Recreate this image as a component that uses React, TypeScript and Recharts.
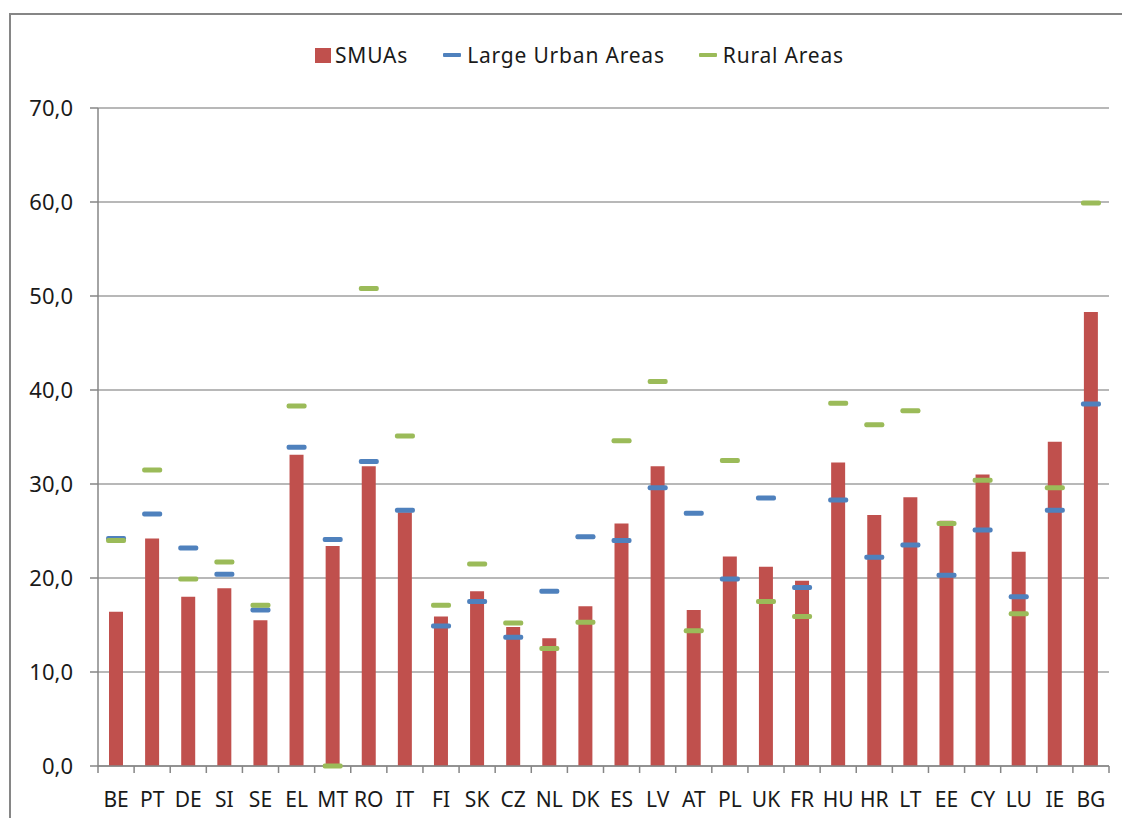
import React from 'react';
import { ComposedChart, Bar, Line, XAxis, YAxis, CartesianGrid, Legend } from 'recharts';

const categories = ['BE', 'PT', 'DE', 'SI', 'SE', 'EL', 'MT', 'RO', 'IT', 'FI', 'SK', 'CZ', 'NL', 'DK', 'ES', 'LV', 'AT', 'PL', 'UK', 'FR', 'HU', 'HR', 'LT', 'EE', 'CY', 'LU', 'IE', 'BG'];
const smuas = [16.4, 24.2, 18.0, 18.9, 15.5, 33.1, 23.4, 31.9, 27.0, 15.9, 18.6, 14.8, 13.6, 17.0, 25.8, 31.9, 16.6, 22.3, 21.2, 19.7, 32.3, 26.7, 28.6, 26.1, 31.0, 22.8, 34.5, 48.3];
const largeUrban = [24.2, 26.8, 23.2, 20.4, 16.6, 33.9, 24.1, 32.4, 27.2, 14.9, 17.5, 13.7, 18.6, 24.4, 24.0, 29.6, 26.9, 19.9, 28.5, 19.0, 28.3, 22.2, 23.5, 20.3, 25.1, 18.0, 27.2, 38.5];
const rural = [24.0, 31.5, 19.9, 21.7, 17.1, 38.3, 0.0, 50.8, 35.1, 17.1, 21.5, 15.2, 12.5, 15.3, 34.6, 40.9, 14.4, 32.5, 17.5, 15.9, 38.6, 36.3, 37.8, 25.8, 30.4, 16.2, 29.6, 59.9];
const yTicks = [0, 10, 20, 30, 40, 50, 60, 70];
const seriesNames = ['SMUAs', 'Large Urban Areas', 'Rural Areas'];

const data = categories.map((c, i) => ({ name: c, smuas: smuas[i], urban: largeUrban[i], rural: rural[i] }));

const W = 1130;
const H = 826;
const PLOT_LEFT = 98;
const PLOT_RIGHT = 1109;
const BAND = (PLOT_RIGHT - PLOT_LEFT) / categories.length;
const AXIS_COLOR = '#868686';
const GRID_COLOR = '#a0a0a0';
const TEXT_COLOR = '#1a1a1a';
const RED = '#C0504D';
const BLUE = '#4F81BD';
const GREEN = '#9BBB59';
const AXIS_FONT = '"Noto Sans", sans-serif';
const LEGEND_FONT = '"Noto Sans", sans-serif';

const legendItems = [
  { name: seriesNames[0], color: RED, kind: 'square', gap: 0 },
  { name: seriesNames[1], color: BLUE, kind: 'line', gap: 35 },
  { name: seriesNames[2], color: GREEN, kind: 'line', gap: 34 },
];

const makeDash = (color: string) => (props: any) => {
  const { cx, cy, index } = props;
  if (cx == null || cy == null) return <g key={`d-${color}-${index}`} />;
  return (
    <rect
      key={`d-${color}-${index}`}
      x={cx - 10}
      y={cy - 2.5}
      width={20}
      height={5}
      rx={2}
      ry={2}
      fill={color}
    />
  );
};

const XTick = (props: any) => {
  const { x, y, payload, index } = props;
  const half = BAND / 2;
  return (
    <g>
      <line x1={x - half} y1={y} x2={x - half} y2={y + 7} stroke={AXIS_COLOR} strokeWidth={1.5} />
      {index === categories.length - 1 && (
        <line x1={x + half} y1={y} x2={x + half} y2={y + 7} stroke={AXIS_COLOR} strokeWidth={1.5} />
      )}
      <text
        x={x}
        y={y + 41}
        textAnchor="middle"
        fill={TEXT_COLOR}
        fontSize={21}
        fontFamily={AXIS_FONT}
      >
        {payload.value}
      </text>
    </g>
  );
};

const renderLegend = () => (
  <div style={{ display: 'flex', alignItems: 'center', fontFamily: LEGEND_FONT, fontSize: 21, letterSpacing: 0.8, color: TEXT_COLOR, whiteSpace: 'nowrap' }}>
    {legendItems.map((it) => (
      <div key={it.name} style={{ display: 'flex', alignItems: 'center', marginLeft: it.gap }}>
        {it.kind === 'square' ? (
          <div style={{ width: 16, height: 15, background: it.color, marginRight: 4 }} />
        ) : (
          <div style={{ width: 18, height: 4, background: it.color, marginRight: 6, borderRadius: 1 }} />
        )}
        <span>{it.name}</span>
      </div>
    ))}
  </div>
);

export default function App() {
  return (
    <div style={{ width: W, height: H, margin: -8, position: 'relative', overflow: 'hidden', background: '#fff' }}>
      <div
        style={{
          position: 'absolute',
          left: 9,
          top: 13,
          width: 1119,
          height: 840,
          border: `2px solid ${AXIS_COLOR}`,
          boxSizing: 'border-box',
        }}
      />
      <div style={{ position: 'absolute', left: 0, top: 0 }}>
        <ComposedChart
          width={W}
          height={H}
          data={data}
          margin={{ top: 108, right: W - PLOT_RIGHT, bottom: 0, left: 0 }}
          barSize={14}
        >
          <CartesianGrid vertical={false} stroke={GRID_COLOR} strokeWidth={1.5} />
          <XAxis
            dataKey="name"
            height={60}
            interval={0}
            tickSize={0}
            tickMargin={0}
            tickLine={false}
            axisLine={{ stroke: AXIS_COLOR, strokeWidth: 1.5 }}
            tick={<XTick />}
          />
          <YAxis
            width={PLOT_LEFT}
            domain={[0, 70]}
            ticks={yTicks}
            interval={0}
            tickSize={8}
            tickMargin={17}
            tickFormatter={(v: number) => v.toFixed(1).replace('.', ',')}
            axisLine={{ stroke: AXIS_COLOR, strokeWidth: 1.5 }}
            tickLine={{ stroke: AXIS_COLOR, strokeWidth: 1.5 }}
            tick={{ fill: TEXT_COLOR, fontSize: 22, fontFamily: AXIS_FONT }}
          />
          <Legend
            verticalAlign="middle"
            align="center"
            layout="horizontal"
            wrapperStyle={{ top: 41, left: 315, width: 'auto' }}
            content={renderLegend}
          />
          <Bar dataKey="smuas" name={seriesNames[0]} fill={RED} isAnimationActive={false} />
          <Line
            dataKey="urban"
            name={seriesNames[1]}
            stroke="none"
            dot={makeDash(BLUE)}
            activeDot={false}
            isAnimationActive={false}
          />
          <Line
            dataKey="rural"
            name={seriesNames[2]}
            stroke="none"
            dot={makeDash(GREEN)}
            activeDot={false}
            isAnimationActive={false}
          />
        </ComposedChart>
      </div>
    </div>
  );
}
